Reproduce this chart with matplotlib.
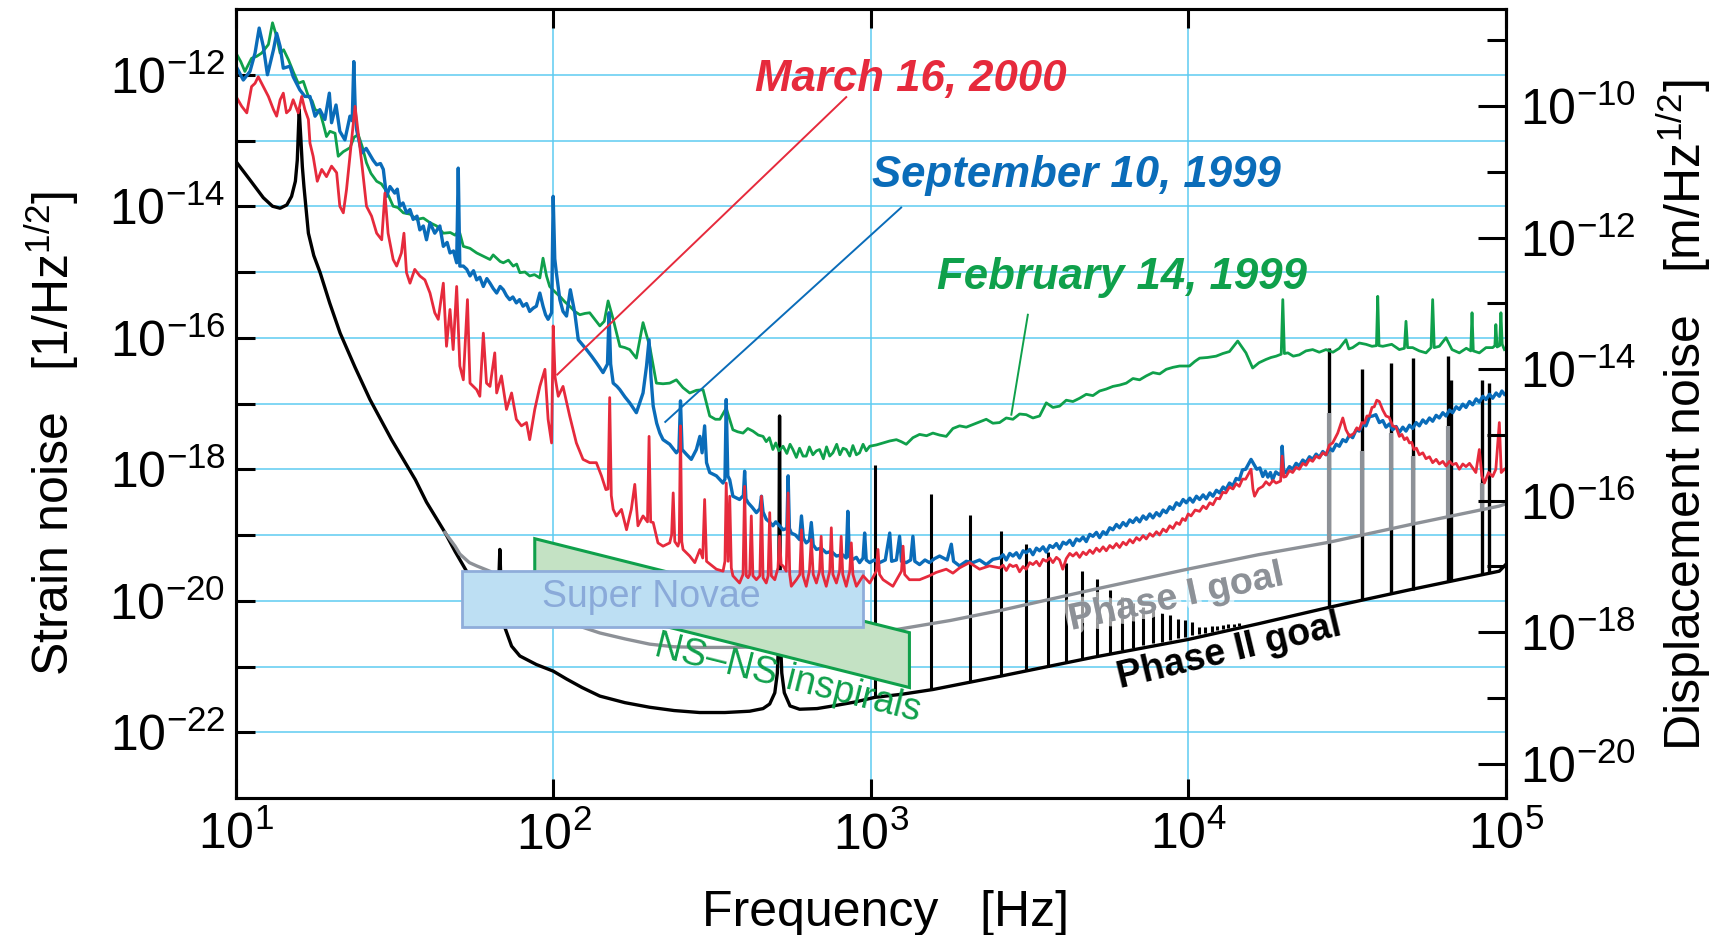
import matplotlib.pyplot as plt
import matplotlib.patheffects as pe
import numpy as np
from matplotlib.patches import Polygon
from matplotlib.ticker import FixedLocator, FixedFormatter, NullLocator, NullFormatter

plt.rcParams["font.family"] = ["Liberation Sans", "DejaVu Sans"]
plt.rcParams["mathtext.fontset"] = "custom"
plt.rcParams["mathtext.rm"] = "Liberation Sans"
plt.rcParams["mathtext.it"] = "Liberation Sans:italic"
plt.rcParams["mathtext.bf"] = "Liberation Sans:bold"

# ---- data: (log10 frequency [Hz], log10 strain [1/Hz^1/2]) ----
feb_1999 = [
    (1.000, -11.67), (1.015, -11.80), (1.028, -11.95), (1.049, -11.75), (1.065, -11.72),
    (1.081, -11.67), (1.102, -11.54), (1.115, -11.21), (1.128, -11.42), (1.139, -11.67),
    (1.150, -11.62), (1.165, -11.77), (1.180, -11.95), (1.196, -12.13), (1.212, -12.10),
    (1.228, -12.33), (1.240, -12.40), (1.249, -12.53), (1.264, -12.56), (1.275, -12.75),
    (1.285, -12.94), (1.296, -12.86), (1.312, -12.89), (1.322, -13.24), (1.338, -13.17),
    (1.359, -13.11), (1.372, -12.95), (1.385, -12.91), (1.398, -13.10), (1.411, -13.34),
    (1.425, -13.50), (1.443, -13.62), (1.458, -13.66), (1.474, -13.77), (1.495, -14.00),
    (1.510, -14.02), (1.527, -14.10), (1.548, -14.12), (1.569, -14.20), (1.590, -14.18),
    (1.611, -14.25), (1.632, -14.30), (1.653, -14.41), (1.675, -14.40), (1.690, -14.44),
    (1.700, -14.38), (1.705, -14.41), (1.716, -14.61), (1.737, -14.64), (1.758, -14.71),
    (1.779, -14.76), (1.800, -14.81), (1.810, -14.74), (1.821, -14.79), (1.832, -14.84),
    (1.842, -14.86), (1.858, -14.82), (1.873, -14.91), (1.884, -14.88), (1.894, -15.01),
    (1.910, -15.00), (1.925, -15.06), (1.940, -15.04), (1.957, -15.09), (1.967, -14.79),
    (1.978, -15.06), (1.988, -15.22), (2.004, -15.30), (2.020, -15.37), (2.035, -15.45),
    (2.051, -15.52), (2.067, -15.60), (2.083, -15.65), (2.099, -15.63), (2.114, -15.62),
    (2.130, -15.72), (2.146, -15.82), (2.160, -15.75), (2.172, -15.44), (2.188, -15.72),
    (2.209, -16.13), (2.225, -16.15), (2.240, -16.18), (2.261, -16.31), (2.282, -15.77),
    (2.303, -16.13), (2.324, -16.69), (2.345, -16.70), (2.366, -16.69), (2.387, -16.64),
    (2.408, -16.76), (2.429, -16.84), (2.450, -16.80), (2.471, -16.79), (2.492, -17.19),
    (2.510, -17.24), (2.524, -17.24), (2.544, -17.07), (2.565, -17.40), (2.580, -17.43),
    (2.597, -17.45), (2.612, -17.38), (2.628, -17.42), (2.645, -17.48), (2.660, -17.50),
    (2.670, -17.58), (2.680, -17.52), (2.691, -17.70), (2.700, -17.60), (2.710, -17.72),
    (2.723, -17.65), (2.735, -17.76), (2.745, -17.62), (2.754, -17.70), (2.765, -17.82),
    (2.775, -17.68), (2.786, -17.80), (2.796, -17.80), (2.806, -17.66), (2.817, -17.78),
    (2.828, -17.72), (2.838, -17.70), (2.850, -17.84), (2.860, -17.66), (2.870, -17.80),
    (2.880, -17.75), (2.892, -17.62), (2.902, -17.78), (2.912, -17.68), (2.922, -17.70),
    (2.933, -17.80), (2.943, -17.64), (2.954, -17.78), (2.964, -17.75), (2.975, -17.62),
    (2.985, -17.72), (2.996, -17.65), (3.017, -17.63), (3.038, -17.60), (3.059, -17.57),
    (3.080, -17.55), (3.095, -17.58), (3.111, -17.62), (3.132, -17.52), (3.153, -17.47),
    (3.175, -17.49), (3.195, -17.45), (3.216, -17.48), (3.237, -17.50), (3.258, -17.38),
    (3.279, -17.34), (3.300, -17.36), (3.321, -17.32), (3.342, -17.28), (3.363, -17.24),
    (3.384, -17.30), (3.405, -17.29), (3.426, -17.22), (3.447, -17.24), (3.468, -17.16),
    (3.489, -17.17), (3.510, -17.22), (3.531, -17.19), (3.552, -16.99), (3.573, -17.06),
    (3.594, -17.04), (3.615, -16.95), (3.636, -16.97), (3.657, -16.92), (3.678, -16.86),
    (3.699, -16.88), (3.720, -16.81), (3.741, -16.78), (3.762, -16.74), (3.783, -16.72),
    (3.804, -16.69), (3.825, -16.62), (3.846, -16.64), (3.867, -16.58), (3.888, -16.53),
    (3.909, -16.55), (3.930, -16.48), (3.951, -16.45), (3.972, -16.43), (4.003, -16.43),
    (4.020, -16.36), (4.035, -16.31), (4.060, -16.30), (4.087, -16.28), (4.108, -16.24),
    (4.129, -16.21), (4.155, -16.05), (4.181, -16.23), (4.202, -16.46), (4.222, -16.38),
    (4.244, -16.33), (4.260, -16.30), (4.276, -16.28), (4.292, -16.25), (4.297, -15.42),
    (4.302, -16.24), (4.313, -16.23), (4.330, -16.28), (4.349, -16.26), (4.370, -16.20),
    (4.391, -16.18), (4.412, -16.22), (4.433, -16.18), (4.455, -16.22), (4.475, -16.16),
    (4.496, -16.03), (4.505, -16.17), (4.517, -16.15), (4.538, -16.08), (4.559, -16.10),
    (4.578, -16.13), (4.592, -16.12), (4.596, -15.37), (4.600, -16.12), (4.612, -16.13),
    (4.640, -16.10), (4.664, -16.18), (4.680, -16.16), (4.685, -15.75), (4.690, -16.15),
    (4.706, -16.15), (4.727, -16.20), (4.748, -16.23), (4.764, -16.15), (4.769, -15.42),
    (4.774, -16.15), (4.790, -16.13), (4.811, -16.00), (4.830, -16.18), (4.853, -16.23),
    (4.875, -16.16), (4.889, -16.20), (4.893, -15.62), (4.897, -16.20), (4.916, -16.23),
    (4.937, -16.15), (4.958, -16.15), (4.965, -16.12), (4.968, -15.80), (4.972, -16.14),
    (4.980, -16.12), (4.984, -15.62), (4.988, -16.10), (4.995, -16.18),
]

sep_1999 = [
    (1.000, -11.87), (1.012, -11.98), (1.023, -12.08), (1.044, -11.95), (1.060, -11.67),
    (1.073, -11.29), (1.086, -11.57), (1.099, -12.00), (1.118, -11.62), (1.128, -11.37),
    (1.139, -11.57), (1.149, -11.90), (1.170, -11.87), (1.180, -12.03), (1.201, -12.23),
    (1.217, -12.33), (1.233, -12.33), (1.249, -12.63), (1.264, -12.53), (1.280, -12.68),
    (1.294, -12.28), (1.301, -12.73), (1.315, -12.46), (1.327, -12.86), (1.343, -12.99),
    (1.359, -12.63), (1.366, -12.70), (1.371, -11.80), (1.376, -12.60), (1.380, -12.84),
    (1.396, -13.19), (1.410, -13.12), (1.422, -13.22), (1.432, -13.30), (1.443, -13.37),
    (1.455, -13.35), (1.464, -13.44), (1.474, -13.85), (1.485, -13.70), (1.500, -13.80),
    (1.508, -13.74), (1.516, -14.00), (1.526, -13.95), (1.537, -14.10), (1.548, -14.05),
    (1.558, -14.20), (1.570, -14.15), (1.579, -14.36), (1.590, -14.30), (1.600, -14.51),
    (1.611, -14.25), (1.626, -14.41), (1.642, -14.30), (1.653, -14.61), (1.665, -14.55),
    (1.674, -14.71), (1.685, -14.68), (1.695, -14.86), (1.700, -13.42), (1.705, -14.91),
    (1.716, -14.91), (1.727, -14.96), (1.737, -15.06), (1.748, -14.98), (1.758, -15.12),
    (1.768, -15.08), (1.779, -15.22), (1.790, -15.10), (1.800, -15.17), (1.810, -15.25),
    (1.821, -15.32), (1.832, -15.22), (1.842, -15.27), (1.852, -15.36), (1.862, -15.42),
    (1.872, -15.38), (1.883, -15.47), (1.893, -15.42), (1.904, -15.52), (1.915, -15.48),
    (1.925, -15.60), (1.936, -15.55), (1.946, -15.52), (1.957, -15.32), (1.967, -15.52),
    (1.975, -15.65), (1.983, -15.72), (1.994, -15.62), (1.999, -13.85), (2.004, -14.80),
    (2.009, -15.01), (2.020, -15.42), (2.030, -15.60), (2.041, -15.67), (2.053, -15.27),
    (2.067, -15.62), (2.078, -16.03), (2.090, -16.10), (2.104, -16.18), (2.120, -16.28),
    (2.135, -16.38), (2.145, -16.45), (2.156, -16.53), (2.170, -16.40), (2.175, -15.62),
    (2.180, -16.40), (2.188, -16.69), (2.200, -16.74), (2.209, -16.79), (2.225, -16.90),
    (2.240, -16.99), (2.261, -17.14), (2.282, -16.84), (2.293, -16.43), (2.301, -16.03),
    (2.307, -16.60), (2.314, -17.04), (2.325, -17.30), (2.335, -17.45), (2.345, -17.55),
    (2.366, -17.62), (2.387, -17.75), (2.395, -17.70), (2.400, -16.96), (2.405, -17.70),
    (2.420, -17.78), (2.434, -17.85), (2.450, -17.70), (2.461, -17.50), (2.468, -17.75),
    (2.476, -17.34), (2.482, -17.90), (2.492, -18.05), (2.513, -18.10), (2.534, -18.21),
    (2.540, -18.15), (2.544, -16.94), (2.549, -18.10), (2.555, -18.16), (2.565, -18.41),
    (2.586, -18.46), (2.598, -18.40), (2.602, -18.03), (2.606, -18.45), (2.613, -18.51),
    (2.626, -18.58), (2.639, -18.66), (2.650, -18.60), (2.655, -18.41), (2.660, -18.65),
    (2.670, -18.76), (2.680, -18.80), (2.691, -18.86), (2.700, -18.80), (2.712, -18.86),
    (2.723, -18.92), (2.735, -18.90), (2.739, -18.10), (2.743, -18.90), (2.749, -18.97),
    (2.762, -19.00), (2.775, -19.07), (2.781, -18.71), (2.787, -19.05), (2.796, -19.12),
    (2.806, -19.08), (2.812, -18.81), (2.818, -19.15), (2.828, -19.22), (2.843, -19.20),
    (2.859, -19.27), (2.875, -19.25), (2.891, -19.32), (2.910, -19.30), (2.922, -19.35),
    (2.927, -18.64), (2.932, -19.33), (2.943, -19.37), (2.954, -19.34), (2.964, -19.42),
    (2.975, -19.35), (2.980, -18.97), (2.985, -19.38), (2.996, -19.42), (3.010, -19.38),
    (3.027, -19.42), (3.045, -19.38), (3.059, -18.97), (3.065, -19.40), (3.080, -19.38),
    (3.090, -19.02), (3.096, -19.40), (3.111, -19.42), (3.125, -19.38), (3.132, -19.02),
    (3.138, -19.40), (3.153, -19.45), (3.170, -19.38), (3.184, -19.42), (3.200, -19.36),
    (3.216, -19.32), (3.240, -19.38), (3.253, -19.14), (3.260, -19.40), (3.279, -19.47),
    (3.300, -19.40), (3.321, -19.42), (3.342, -19.38), (3.363, -19.45), (3.384, -19.37),
    (3.405, -19.35), (3.416, -19.30), (3.426, -19.38), (3.437, -19.28), (3.447, -19.32),
    (3.458, -19.27), (3.468, -19.35), (3.479, -19.24), (3.489, -19.27), (3.500, -19.22),
    (3.510, -19.30), (3.521, -19.20), (3.531, -19.24), (3.542, -19.18), (3.552, -19.26),
    (3.563, -19.16), (3.573, -19.19), (3.584, -19.13), (3.594, -19.21), (3.605, -19.11),
    (3.615, -19.14), (3.626, -19.08), (3.636, -19.16), (3.647, -19.06), (3.657, -19.09),
    (3.668, -19.03), (3.678, -19.10), (3.689, -18.99), (3.699, -19.02), (3.710, -18.96),
    (3.720, -19.04), (3.731, -18.95), (3.741, -18.99), (3.752, -18.89), (3.762, -18.92),
    (3.773, -18.84), (3.783, -18.89), (3.794, -18.81), (3.804, -18.86), (3.815, -18.77),
    (3.825, -18.81), (3.836, -18.74), (3.846, -18.80), (3.857, -18.71), (3.867, -18.76),
    (3.878, -18.68), (3.888, -18.74), (3.899, -18.66), (3.909, -18.71), (3.920, -18.62),
    (3.930, -18.66), (3.941, -18.57), (3.951, -18.61), (3.962, -18.51), (3.972, -18.55),
    (3.983, -18.46), (3.993, -18.51), (4.004, -18.44), (4.014, -18.50), (4.025, -18.41),
    (4.035, -18.46), (4.046, -18.39), (4.056, -18.45), (4.067, -18.36), (4.077, -18.41),
    (4.088, -18.32), (4.098, -18.36), (4.109, -18.27), (4.118, -18.31), (4.129, -18.21),
    (4.140, -18.25), (4.150, -18.14), (4.160, -18.16), (4.170, -18.01), (4.180, -18.00),
    (4.197, -17.85), (4.215, -18.00), (4.225, -17.98), (4.234, -18.11), (4.242, -18.03),
    (4.250, -18.12), (4.258, -18.05), (4.265, -18.16), (4.275, -18.04), (4.285, -18.08),
    (4.292, -18.06), (4.295, -17.65), (4.300, -18.05), (4.307, -18.05), (4.318, -17.96),
    (4.328, -18.00), (4.339, -17.91), (4.349, -17.95), (4.360, -17.86), (4.370, -17.90),
    (4.381, -17.81), (4.391, -17.85), (4.402, -17.77), (4.412, -17.82), (4.423, -17.73),
    (4.433, -17.78), (4.444, -17.68), (4.454, -17.72), (4.465, -17.62), (4.475, -17.65),
    (4.486, -17.55), (4.496, -17.58), (4.507, -17.48), (4.517, -17.52), (4.528, -17.40),
    (4.538, -17.42), (4.549, -17.31), (4.559, -17.34), (4.570, -17.20), (4.580, -17.19),
    (4.590, -17.17), (4.601, -17.29), (4.612, -17.26), (4.622, -17.36), (4.633, -17.31),
    (4.643, -17.40), (4.654, -17.35), (4.664, -17.44), (4.675, -17.36), (4.685, -17.42),
    (4.696, -17.33), (4.706, -17.38), (4.717, -17.29), (4.727, -17.34), (4.738, -17.25),
    (4.748, -17.30), (4.759, -17.22), (4.769, -17.27), (4.780, -17.18), (4.790, -17.22),
    (4.801, -17.14), (4.811, -17.19), (4.822, -17.10), (4.832, -17.14), (4.843, -17.05),
    (4.853, -17.09), (4.864, -17.01), (4.874, -17.06), (4.885, -16.97), (4.895, -17.02),
    (4.906, -16.93), (4.916, -16.98), (4.927, -16.89), (4.937, -16.94), (4.948, -16.86),
    (4.958, -16.92), (4.969, -16.84), (4.979, -16.89), (4.987, -16.81), (4.995, -16.86),
]

mar_2000 = [
    (1.000, -12.33), (1.018, -12.48), (1.034, -12.58), (1.049, -12.18), (1.060, -12.13),
    (1.070, -12.03), (1.086, -12.18), (1.102, -12.33), (1.118, -12.53), (1.128, -12.63),
    (1.139, -12.38), (1.149, -12.28), (1.159, -12.58), (1.170, -12.53), (1.180, -12.38),
    (1.196, -12.58), (1.207, -12.33), (1.217, -12.53), (1.228, -12.68), (1.233, -13.04),
    (1.243, -13.24), (1.256, -13.62), (1.270, -13.44), (1.285, -13.55), (1.301, -13.39),
    (1.317, -13.49), (1.327, -14.00), (1.338, -14.10), (1.348, -13.75), (1.364, -12.99),
    (1.375, -12.48), (1.385, -12.89), (1.396, -13.34), (1.411, -14.00), (1.427, -14.15),
    (1.443, -14.41), (1.459, -14.51), (1.469, -13.80), (1.479, -14.41), (1.495, -14.81),
    (1.506, -14.91), (1.521, -14.71), (1.529, -14.41), (1.537, -15.01), (1.548, -15.17),
    (1.563, -14.96), (1.579, -15.06), (1.595, -15.12), (1.611, -15.32), (1.626, -15.62),
    (1.637, -15.72), (1.653, -15.17), (1.663, -16.13), (1.674, -15.57), (1.684, -16.18),
    (1.695, -15.22), (1.705, -16.43), (1.716, -16.64), (1.729, -15.42), (1.737, -16.69),
    (1.758, -16.79), (1.768, -16.89), (1.779, -15.93), (1.789, -16.69), (1.800, -16.74),
    (1.815, -16.23), (1.821, -16.84), (1.836, -16.58), (1.852, -17.09), (1.868, -16.84),
    (1.883, -17.24), (1.899, -17.34), (1.915, -17.29), (1.925, -17.55), (1.941, -17.09),
    (1.957, -16.74), (1.973, -16.48), (1.983, -17.24), (1.994, -17.60), (1.999, -15.82),
    (2.005, -16.60), (2.015, -16.89), (2.030, -16.74), (2.051, -17.19), (2.072, -17.60),
    (2.093, -17.85), (2.114, -17.90), (2.135, -17.90), (2.151, -18.10), (2.165, -18.31),
    (2.172, -18.30), (2.177, -16.91), (2.182, -18.40), (2.188, -18.61), (2.198, -18.71),
    (2.214, -18.61), (2.230, -18.92), (2.245, -18.61), (2.256, -18.23), (2.266, -18.86),
    (2.282, -18.71), (2.296, -18.80), (2.301, -17.50), (2.306, -18.80), (2.314, -18.81),
    (2.329, -19.12), (2.345, -19.17), (2.366, -19.12), (2.372, -19.00), (2.377, -18.36),
    (2.382, -19.10), (2.392, -19.17), (2.396, -19.10), (2.400, -17.34), (2.404, -19.10),
    (2.408, -19.22), (2.429, -19.32), (2.445, -19.42), (2.461, -19.22), (2.470, -19.35),
    (2.476, -18.46), (2.482, -19.40), (2.487, -19.42), (2.513, -19.52), (2.534, -19.55),
    (2.540, -19.40), (2.544, -18.21), (2.550, -19.40), (2.555, -18.41), (2.560, -19.50),
    (2.565, -19.62), (2.586, -19.73), (2.597, -19.60), (2.602, -18.26), (2.607, -19.62),
    (2.613, -19.65), (2.618, -19.60), (2.623, -18.71), (2.628, -19.62), (2.639, -19.68),
    (2.650, -19.62), (2.655, -18.41), (2.660, -19.65), (2.670, -19.73), (2.676, -19.62),
    (2.681, -18.66), (2.686, -19.62), (2.697, -19.68), (2.707, -19.50), (2.712, -19.02),
    (2.717, -19.45), (2.723, -19.47), (2.733, -19.55), (2.739, -18.36), (2.744, -19.60),
    (2.749, -19.78), (2.765, -19.68), (2.776, -19.60), (2.781, -18.92), (2.786, -19.62),
    (2.796, -19.78), (2.806, -19.55), (2.812, -19.07), (2.818, -19.60), (2.828, -19.73),
    (2.838, -19.55), (2.843, -19.02), (2.848, -19.60), (2.859, -19.78), (2.870, -19.55),
    (2.875, -18.89), (2.880, -19.60), (2.891, -19.73), (2.901, -19.55), (2.906, -19.02),
    (2.911, -19.60), (2.922, -19.78), (2.933, -19.55), (2.938, -19.12), (2.943, -19.60),
    (2.954, -19.78), (2.975, -19.62), (2.996, -19.73), (3.017, -19.55), (3.022, -19.22),
    (3.027, -19.60), (3.038, -19.68), (3.069, -19.78), (3.096, -19.55), (3.101, -19.17),
    (3.106, -19.60), (3.121, -19.68), (3.153, -19.68), (3.184, -19.62), (3.205, -19.57),
    (3.237, -19.52), (3.258, -19.58), (3.279, -19.50), (3.310, -19.42), (3.342, -19.52),
    (3.373, -19.47), (3.405, -19.50), (3.416, -19.46), (3.426, -19.54), (3.437, -19.45),
    (3.447, -19.48), (3.458, -19.46), (3.468, -19.56), (3.479, -19.48), (3.489, -19.52),
    (3.500, -19.42), (3.510, -19.45), (3.521, -19.40), (3.531, -19.47), (3.542, -19.37),
    (3.552, -19.40), (3.563, -19.35), (3.573, -19.42), (3.584, -19.34), (3.594, -19.38),
    (3.604, -19.52), (3.615, -19.36), (3.626, -19.28), (3.636, -19.32), (3.647, -19.27),
    (3.657, -19.34), (3.668, -19.26), (3.678, -19.30), (3.689, -19.23), (3.699, -19.28),
    (3.710, -19.20), (3.720, -19.25), (3.731, -19.18), (3.741, -19.24), (3.752, -19.16),
    (3.762, -19.20), (3.773, -19.13), (3.783, -19.19), (3.794, -19.11), (3.804, -19.15),
    (3.815, -19.07), (3.825, -19.12), (3.836, -19.04), (3.846, -19.08), (3.857, -19.01),
    (3.867, -19.06), (3.878, -18.98), (3.888, -19.02), (3.899, -18.95), (3.909, -19.00),
    (3.920, -18.91), (3.930, -18.95), (3.941, -18.86), (3.951, -18.90), (3.962, -18.81),
    (3.972, -18.84), (3.981, -18.75), (3.990, -18.78), (3.999, -18.68), (4.008, -18.71),
    (4.021, -18.62), (4.035, -18.64), (4.046, -18.56), (4.056, -18.60), (4.067, -18.51),
    (4.077, -18.54), (4.088, -18.44), (4.098, -18.45), (4.108, -18.35), (4.118, -18.36),
    (4.129, -18.27), (4.140, -18.30), (4.150, -18.22), (4.160, -18.26), (4.170, -18.15),
    (4.180, -18.15), (4.197, -18.00), (4.203, -18.30), (4.208, -18.41), (4.220, -18.30),
    (4.234, -18.26), (4.244, -18.19), (4.255, -18.24), (4.266, -18.17), (4.276, -18.21),
    (4.290, -18.18), (4.295, -17.80), (4.300, -18.12), (4.307, -18.11), (4.318, -18.02),
    (4.328, -18.05), (4.339, -17.97), (4.349, -18.00), (4.360, -17.91), (4.370, -17.94),
    (4.381, -17.85), (4.391, -17.88), (4.402, -17.80), (4.412, -17.83), (4.423, -17.75),
    (4.433, -17.78), (4.444, -17.63), (4.454, -17.60), (4.470, -17.45), (4.486, -17.22),
    (4.496, -17.40), (4.507, -17.50), (4.522, -17.45), (4.530, -17.37), (4.538, -17.40),
    (4.546, -17.29), (4.554, -17.30), (4.562, -17.19), (4.570, -17.19), (4.578, -17.06),
    (4.585, -17.05), (4.593, -16.95), (4.601, -16.97), (4.612, -17.10), (4.622, -17.19),
    (4.632, -17.21), (4.643, -17.34), (4.654, -17.36), (4.664, -17.50), (4.672, -17.47),
    (4.680, -17.55), (4.688, -17.52), (4.696, -17.60), (4.703, -17.59), (4.710, -17.70),
    (4.718, -17.68), (4.727, -17.78), (4.738, -17.75), (4.748, -17.84), (4.759, -17.81),
    (4.769, -17.90), (4.780, -17.85), (4.790, -17.92), (4.801, -17.88), (4.811, -17.95),
    (4.822, -17.88), (4.832, -17.93), (4.843, -17.91), (4.853, -18.00), (4.864, -17.92),
    (4.874, -17.96), (4.885, -17.91), (4.895, -17.98), (4.905, -18.05), (4.916, -17.70),
    (4.924, -18.10), (4.932, -18.21), (4.945, -18.05), (4.958, -18.11), (4.968, -18.00),
    (4.979, -17.29), (4.985, -18.05), (4.995, -18.00),
]

phase2_goal = [
    (1.000, -13.32), (1.044, -13.60), (1.086, -13.87), (1.115, -14.00), (1.139, -14.03),
    (1.160, -13.98), (1.175, -13.85), (1.187, -13.62), (1.193, -13.30), (1.199, -12.53),
    (1.204, -12.95), (1.209, -13.40), (1.214, -13.70), (1.228, -14.41), (1.245, -14.75),
    (1.265, -15.01), (1.295, -15.47), (1.328, -15.93), (1.375, -16.45), (1.422, -16.94),
    (1.490, -17.55), (1.565, -18.16), (1.600, -18.50), (1.658, -18.96), (1.690, -19.25),
    (1.726, -19.55), (1.770, -19.88), (1.822, -20.25), (1.827, -19.80), (1.831, -19.22),
    (1.835, -19.80), (1.840, -20.38), (1.847, -20.41), (1.868, -20.69), (1.894, -20.84),
    (1.946, -20.97), (1.999, -21.07), (2.041, -21.19), (2.090, -21.32), (2.146, -21.45),
    (2.225, -21.55), (2.303, -21.62), (2.380, -21.67), (2.460, -21.70), (2.540, -21.70),
    (2.618, -21.68), (2.660, -21.64), (2.681, -21.57), (2.697, -21.40), (2.705, -21.10),
    (2.709, -20.60), (2.712, -17.19), (2.715, -20.60), (2.719, -21.10), (2.727, -21.40),
    (2.745, -21.60), (2.775, -21.65), (2.830, -21.64), (2.880, -21.60), (2.950, -21.54),
    (3.011, -21.47), (3.100, -21.42), (3.195, -21.35), (3.300, -21.25), (3.405, -21.15),
    (3.700, -20.86), (3.998, -20.59), (4.220, -20.35), (4.443, -20.10), (4.700, -19.83),
    (4.979, -19.55), (4.997, -19.46),
]

phase1_goal = [
    (1.658, -18.96), (1.690, -19.17), (1.705, -19.29), (1.735, -19.42), (1.758, -19.47),
    (1.799, -19.55), (1.850, -19.70), (1.894, -19.85), (1.950, -20.05), (1.988, -20.18),
    (2.040, -20.30), (2.090, -20.40), (2.146, -20.49), (2.225, -20.58), (2.303, -20.66),
    (2.380, -20.70), (2.460, -20.71), (2.564, -20.71), (2.650, -20.70), (2.775, -20.66),
    (2.870, -20.60), (2.964, -20.52), (3.090, -20.43), (3.250, -20.30), (3.405, -20.15),
    (3.700, -19.83), (3.997, -19.52), (4.220, -19.30), (4.443, -19.11), (4.700, -18.84),
    (4.979, -18.56), (4.997, -18.53),
]

# violin-mode comb on the Phase II goal: frequency [Hz], log10 top, log10 base
comb_freq = [1028, 1542, 2056, 2570, 3084, 3598, 4112, 4626, 5140, 5654, 6168, 6682,
             7196, 7710, 8224, 8738, 9252, 9766, 10280, 10794, 11308, 11822, 12336,
             12850, 13364, 13878, 14392]
comb_top = [-17.94, -18.38, -18.69, -18.94, -19.13, -19.26, -19.42, -19.55, -19.67,
            -19.83, -19.95, -20.03, -20.10, -20.14, -20.18, -20.22, -20.27, -20.29,
            -20.32, -20.40, -20.40, -20.39, -20.38, -20.37, -20.36, -20.35, -20.34]
comb_base = [-21.47, -21.35, -21.23, -21.14, -21.07, -21.00, -20.93, -20.88, -20.83,
             -20.79, -20.75, -20.72, -20.68, -20.65, -20.62, -20.60, -20.57, -20.55,
             -20.52, -20.50, -20.49, -20.47, -20.45, -20.43, -20.41, -20.40, -20.38]

# high frequency lines on both goal curves
hf_freq = [27700, 35200, 43400, 50800, 65500, 67100, 83800, 88500]
hf2_top = [-16.15, -16.48, -16.38, -16.31, -16.28, -16.64, -16.64, -16.69]
hf2_base = [-20.09, -19.99, -19.89, -19.83, -19.71, -19.70, -19.61, -19.58]
hf1_freq = [27700, 35200, 43400, 50800, 65500, 83800]
hf1_top = [-17.14, -17.72, -17.45, -17.80, -17.34, -18.21]
hf1_base = [-19.11, -19.01, -18.92, -18.85, -18.74, -18.63]

freq_ticks = [1e1, 1e2, 1e3, 1e4, 1e5]
freq_labels = [r"$\mathregular{10^{%d}}$" % e for e in [1, 2, 3, 4, 5]]
strain_exp = list(range(-22, -11))
strain_labels = [r"$\mathregular{10^{%d}}$" % e if e % 2 == 0 else "" for e in strain_exp]
disp_major_exp = [-20, -18, -16, -14, -12, -10]
disp_minor_exp = [-19, -17, -15, -13, -11, -9]
ARM_LENGTH = 300.0  # m, strain -> displacement

RED = "#e62a3c"
BLUE = "#0a6cb9"
GREEN = "#0fa04b"
GRAY = "#8d9197"
GRID = "#5ecbf1"


def xy(points):
    arr = np.array(points)
    return 10 ** arr[:, 0], 10 ** arr[:, 1]


fig = plt.figure(figsize=(17.24, 9.35), dpi=100)
ax = fig.add_axes([236 / 1724, 1 - 798 / 935, 1270 / 1724, 789 / 935])
ax.set_xscale("log")
ax.set_yscale("log")
ax.set_xlim(1e1, 1e5)
ax.set_ylim(1e-23, 1e-11)

# goal curves
f, h = xy(phase2_goal)
ax.plot(f, h, color="black", lw=2.4, zorder=2)
ax.vlines(comb_freq, 10 ** np.array(comb_base), 10 ** np.array(comb_top), color="black", lw=2.2, zorder=2)
ax.vlines(hf_freq, 10 ** np.array(hf2_base), 10 ** np.array(hf2_top), color="black", lw=2.4, zorder=2)
f, h = xy(phase1_goal)
ax.plot(f, h, color=GRAY, lw=2.4, zorder=2.5)
ax.vlines(hf1_freq, 10 ** np.array(hf1_base), 10 ** np.array(hf1_top), color=GRAY, lw=3.0, zorder=2.5)

# source regions
nsns = Polygon([(10 ** 1.941, 10 ** -19.056), (10 ** 3.121, 10 ** -20.485),
                (10 ** 3.121, 10 ** -21.32), (10 ** 1.941, 10 ** -19.892)],
               closed=True, facecolor="#c4e2c4", edgecolor=GREEN, lw=2.2, zorder=3)
ax.add_patch(nsns)
sn = Polygon([(10 ** 1.711, 10 ** -19.553), (10 ** 2.974, 10 ** -19.553),
              (10 ** 2.974, 10 ** -20.40), (10 ** 1.711, 10 ** -20.40)],
             closed=True, facecolor="#bddff3", edgecolor="#8fadda", lw=2.0, zorder=3.5)
ax.add_patch(sn)
ax.text(10 ** 2.308, 10 ** -19.95, "Super Novae", color="#8aaad9", fontsize=27,
        ha="center", va="center", zorder=3.6)

# measured noise spectra
for data, col, lw in [(feb_1999, GREEN, 2.0), (sep_1999, BLUE, 2.4), (mar_2000, RED, 2.0)]:
    f, h = xy(data)
    ax.plot(f, h, color=col, lw=lw, zorder=5)

# labels with leader lines
ax.plot([10 ** 2.922, 10 ** 2.012], [10 ** -12.34, 10 ** -16.56], color=RED, lw=1.4, zorder=6)
ax.plot([10 ** 3.095, 10 ** 2.352], [10 ** -14.02, 10 ** -17.28], color=BLUE, lw=1.4, zorder=6)
ax.plot([10 ** 3.494, 10 ** 3.442], [10 ** -15.65, 10 ** -17.17], color=GREEN, lw=1.4, zorder=6)
ax.text(10 ** 2.635, 10 ** -12.24, "March 16, 2000", color=RED, fontsize=31.5,
        fontweight="bold", fontstyle="italic", ha="left", va="baseline", zorder=7)
ax.text(10 ** 3.003, 10 ** -13.70, "September 10, 1999", color=BLUE, fontsize=31.5,
        fontweight="bold", fontstyle="italic", ha="left", va="baseline", zorder=7)
ax.text(10 ** 3.207, 10 ** -15.26, "February 14, 1999", color=GREEN, fontsize=31.5,
        fontweight="bold", fontstyle="italic", ha="left", va="baseline", zorder=7)

ax.text(10 ** 2.738, 10 ** -21.19, "NS\u2013NS inspirals", color=GREEN, fontsize=27,
        rotation=-14, rotation_mode="anchor", ha="center", va="center", zorder=6)
ax.text(10 ** 3.961, 10 ** -19.95, "Phase I goal", color=GRAY, fontsize=27, fontweight="bold",
        rotation=12, rotation_mode="anchor", ha="center", va="center", zorder=6,
        path_effects=[pe.withStroke(linewidth=7, foreground=(1, 1, 1, 0.6))])
ax.text(10 ** 4.129, 10 ** -20.78, "Phase II goal", color="black", fontsize=27, fontweight="bold",
        rotation=13.5, rotation_mode="anchor", ha="center", va="center", zorder=6)

# axes, ticks, grid
ax.xaxis.set_major_locator(FixedLocator(freq_ticks))
ax.xaxis.set_major_formatter(FixedFormatter(freq_labels))
ax.xaxis.set_minor_locator(NullLocator())
ax.yaxis.set_major_locator(FixedLocator([10.0 ** e for e in strain_exp]))
ax.yaxis.set_major_formatter(FixedFormatter(strain_labels))
ax.yaxis.set_minor_locator(NullLocator())
ax.tick_params(axis="x", direction="in", length=14, width=2.2, top=True, bottom=True,
               labelsize=36, pad=10)
ax.tick_params(axis="y", direction="in", length=14, width=2.2, left=True, right=False,
               labelsize=36, pad=7.5)
ax.grid(True, which="major", color=GRID, lw=1.1, zorder=0)
ax.set_axisbelow(True)
for sp in ax.spines.values():
    sp.set_linewidth(2.2)

ax2 = ax.twinx()
ax2.set_yscale("log")
ax2.set_ylim(1e-23 * ARM_LENGTH, 1e-11 * ARM_LENGTH)
ax2.yaxis.set_major_locator(FixedLocator([10.0 ** e for e in disp_major_exp]))
ax2.yaxis.set_major_formatter(FixedFormatter([r"$\mathregular{10^{%d}}$" % e for e in disp_major_exp]))
ax2.yaxis.set_minor_locator(FixedLocator([10.0 ** e for e in disp_minor_exp]))
ax2.yaxis.set_minor_formatter(NullFormatter())
ax2.tick_params(axis="y", which="major", direction="in", length=20, width=2.2, labelsize=36, pad=10)
ax2.tick_params(axis="y", which="minor", direction="in", length=14, width=2.2)
for sp in ax2.spines.values():
    sp.set_linewidth(2.2)

fig.text(52 / 1724, 1 - 433 / 935, "Strain noise   [1/Hz$^{\\mathregular{1/2}}$]", fontsize=36,
         rotation=90, ha="center", va="center")
fig.text(1684 / 1724, 1 - 415 / 935, "Displacement noise   [m/Hz$^{\\mathregular{1/2}}$]", fontsize=36,
         rotation=90, ha="center", va="center")
fig.text(886 / 1724, 1 - 926 / 935, "Frequency   [Hz]", fontsize=36, ha="center", va="baseline")

fig.savefig("out.png", dpi=100)
